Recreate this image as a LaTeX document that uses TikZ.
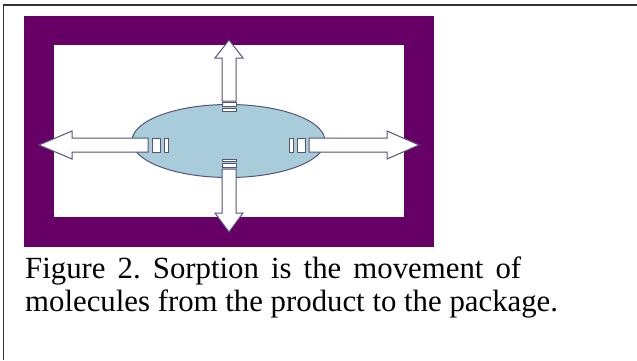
\documentclass[tikz,border=0pt]{standalone}
\usepackage{fontspec}
\setmainfont{Liberation Serif}
\frenchspacing
\definecolor{plum}{HTML}{660066}
\definecolor{cellblue}{HTML}{A8CCDA}
\definecolor{edgeslate}{HTML}{55557A}
\definecolor{framegray}{HTML}{333333}
\tikzset{
  blockarrow/.style={fill=white, draw=edgeslate, line width=1pt, line join=miter},
  caption/.style={anchor=base west, inner sep=0pt, font=\fontsize{30.8}{33}\selectfont}
}
\begin{document}
\begin{tikzpicture}[x=1pt,y=-1pt]
  \useasboundingbox (0,0) rectangle (637,360);
  % page frame (top and left edges)
  \draw[framegray, line width=1.6pt] (3.5,360) -- (3.5,4.8) -- (637,4.8);
  % package wall
  \fill[plum] (24,16) rectangle (434,247);
  \fill[white] (54,45) rectangle (404,217);
  % product
  \filldraw[fill=cellblue, draw=edgeslate, line width=1pt] (228.5,141) ellipse [x radius=96.5, y radius=36.5];
  % left striped arrow
  \draw[blockarrow] (39,145) -- (72,131) -- (72,138) -- (148,138) -- (148,152) -- (72,152) -- (72,159) -- cycle;
  \draw[blockarrow] (152,138) rectangle (160.5,152);
  \draw[blockarrow] (164,138) rectangle (168.5,152);
  % right striped arrow
  \draw[blockarrow] (419,145) -- (387,131) -- (387,138) -- (309,138) -- (309,152) -- (387,152) -- (387,159) -- cycle;
  \draw[blockarrow] (297,138) rectangle (305.5,152);
  \draw[blockarrow] (289,138) rectangle (293.5,152);
  % upward striped arrow
  \draw[blockarrow] (229,40) -- (215,58) -- (222,58) -- (222,101) -- (236,101) -- (236,58) -- (243,58) -- cycle;
  \draw[blockarrow] (222,102.5) rectangle (236,106.5);
  \draw[blockarrow] (222,108.5) rectangle (236,111);
  % downward striped arrow
  \draw[blockarrow] (229,232) -- (215,213) -- (222,213) -- (222,169) -- (236,169) -- (236,213) -- (243,213) -- cycle;
  \draw[blockarrow] (222,163.5) rectangle (236,167.5);
  \draw[blockarrow] (222,159) rectangle (236,161.5);
  % caption: first line slightly spread, last line natural
  \node[caption] (capA) at (25,278) {\makebox[496pt][s]{Figure 2. Sorption is the movement of}};
  \node[caption] (capB) at (25,311) {molecules from the product to the package.};
\end{tikzpicture}
\end{document}
